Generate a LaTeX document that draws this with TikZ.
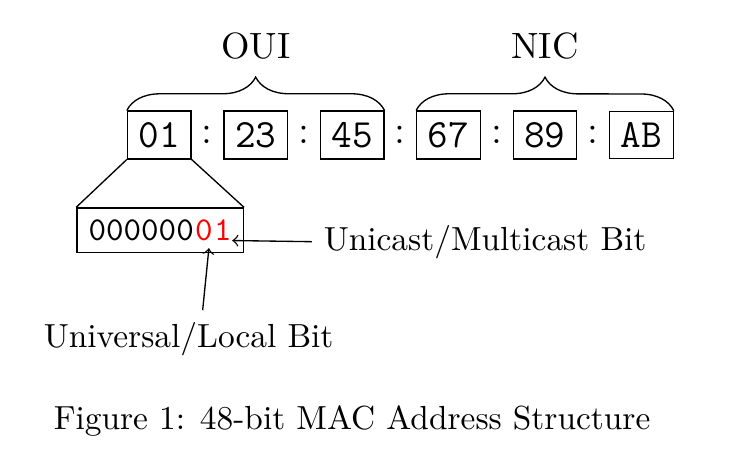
\documentclass[tikz,border=0pt]{standalone}
\usepackage{amssymb, amsmath}
\usepackage{tikz}
\usetikzlibrary{fit,positioning,decorations.pathreplacing}

\begin{document}
\begin{tikzpicture}[byte/.style={draw, font=\large\ttfamily},
							colon/.style={font=\large, inner xsep=2.9pt},
							bit/.style={inner sep=0pt, font=\ttfamily},
							group brace/.style={decorate, decoration={brace, amplitude=10pt}},
							head/.style={font=\fontsize{10.95}{13.6}\selectfont},
							>=to, scale=1]
			\useasboundingbox (0,0) rectangle (7.895,-4.779);
			% the six bytes
			\node[byte] (b1) at (1.676,-1.421) {01};
			\foreach \t [count=\i from 2] in {23,45,67,89,AB} {
				\pgfmathtruncatemacro{\j}{\i-1}
				\node[colon, right=0pt of b\j] (c\j) {:};
				\node[byte, right=0pt of c\j] (b\i) {\t};
			}
			\draw[group brace] (b1.north west) -- (b3.north east)
				node[head, midway, above=11.7pt] (oui) {OUI};
			\draw[group brace] (b4.north west) -- (b6.north east)
				node[head, midway, above=11.7pt] (nic) {NIC};
			% first byte in bits
			\node[bit, anchor=base west] (zeros) at (0.926,-2.532) {000000};
			\node[bit, text=red, anchor=base west] (ul) at (zeros.base east) {0};
			\node[bit, text=red, anchor=base west] (ig) at (ul.base east) {1};
			\node[draw, fit=(zeros)(ig), inner sep=3.33pt] (bits) {};
			\draw (b1.south west) -- (bits.north west);
			\draw (b1.south east) -- (bits.north east);
			\node[anchor=base west] (ucast) at (3.284,-2.632) {Unicast/Multicast Bit};
			\node[anchor=base west] (ulocal) at (0.337,-3.653) {Universal/Local Bit};
			\draw[->] (ucast.west) -- (ig.base east);
			\draw[->] ([xshift=4.2pt]ulocal.north) -- ([xshift=1.5pt, yshift=-2pt]ul.south);
			\node[anchor=base west] (caption) at (0.442,-4.516) {Figure 1: 48-bit MAC Address Structure};
		\end{tikzpicture}
\end{document}
